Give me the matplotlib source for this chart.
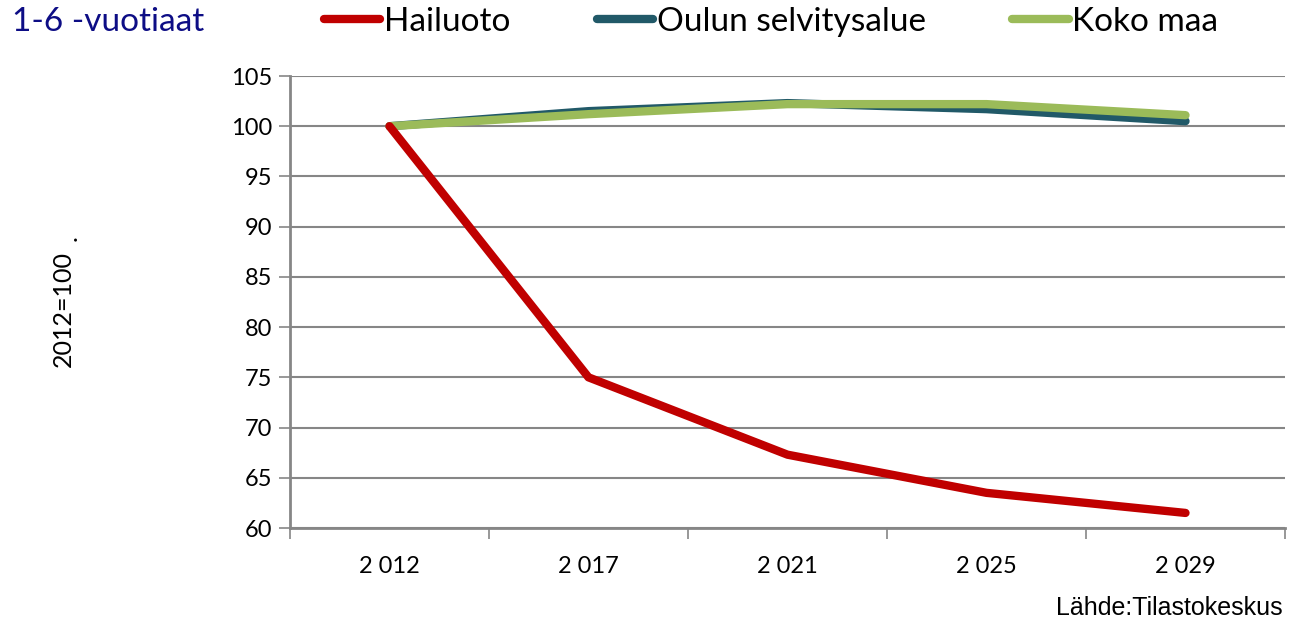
import numpy as np
import matplotlib.pyplot as plt
from matplotlib.lines import Line2D

# Data (index 2012 = 100)
years = ["2 012", "2 017", "2 021", "2 025", "2 029"]
hailuoto = [100.0, 75.0, 67.3, 63.5, 61.5]
oulu = [100.0, 101.5, 102.3, 101.7, 100.5]
koko_maa = [100.0, 101.2, 102.2, 102.2, 101.1]

red = "#C00000"
teal = "#215968"
green = "#9BBB59"
grey = "#868686"

plt.rcParams["font.family"] = ["Lato", "DejaVu Sans"]

fig = plt.figure(figsize=(13.01, 6.22), dpi=100)
ax = fig.add_axes([290 / 1301, 94 / 622, 995 / 1301, 452 / 622])

x = np.arange(len(years))
ax.plot(x, oulu, color=teal, lw=6, solid_capstyle="round", solid_joinstyle="round", zorder=3)
ax.plot(x, koko_maa, color=green, lw=6, solid_capstyle="round", solid_joinstyle="round", zorder=4)
ax.plot(x, hailuoto, color=red, lw=6, solid_capstyle="round", solid_joinstyle="round", zorder=5)

ax.set_xlim(-0.5, len(years) - 0.5)
ax.set_ylim(60, 105)
ax.set_yticks(np.arange(60, 106, 5))
ax.set_xticks(np.arange(-0.5, len(years), 1.0))
ax.set_xticklabels([])
ax.set_xticks(x, minor=True)
ax.set_xticklabels(years, minor=True, fontsize=17)
ax.tick_params(axis="x", which="minor", length=0, pad=20)
ax.tick_params(axis="x", which="major", length=8, width=1.2, color=grey, direction="out")
ax.tick_params(axis="y", length=8, width=1.2, color=grey, direction="out", labelsize=17, pad=5)

ax.grid(axis="y", color=grey, lw=1.5, zorder=0)
for side in ["top", "right"]:
    ax.spines[side].set_visible(False)
for side in ["left", "bottom"]:
    ax.spines[side].set_color(grey)
    ax.spines[side].set_linewidth(2)

fig.text(63 / 1301, 1 - 309 / 622, "2012=100", rotation=90, ha="center", va="center", fontsize=18)
fig.text(69 / 1301, 1 - 238 / 622, ".", rotation=90, ha="center", va="center", fontsize=18)

fig.text(12 / 1301, 1 - 22 / 622, "1-6 -vuotiaat", color="#0D0D85", fontsize=24, va="center", ha="left")

handles = [Line2D([], [], color=c, lw=6, solid_capstyle="round") for c in (red, teal, green)]
fig.legend(handles, ["Hailuoto", "Oulun selvitysalue", "Koko maa"], loc="center left",
           bbox_to_anchor=(307 / 1301, 1 - 22 / 622), ncol=3, frameon=False, fontsize=24,
           handlelength=1.7, handletextpad=0.1, columnspacing=2.6, borderpad=0)

fig.text(1283 / 1301, 1 - 608 / 622, "Lähde:Tilastokeskus", ha="right", va="center",
         fontsize=18, family=["Liberation Sans", "DejaVu Sans"])

fig.savefig("out.png", dpi=100)
